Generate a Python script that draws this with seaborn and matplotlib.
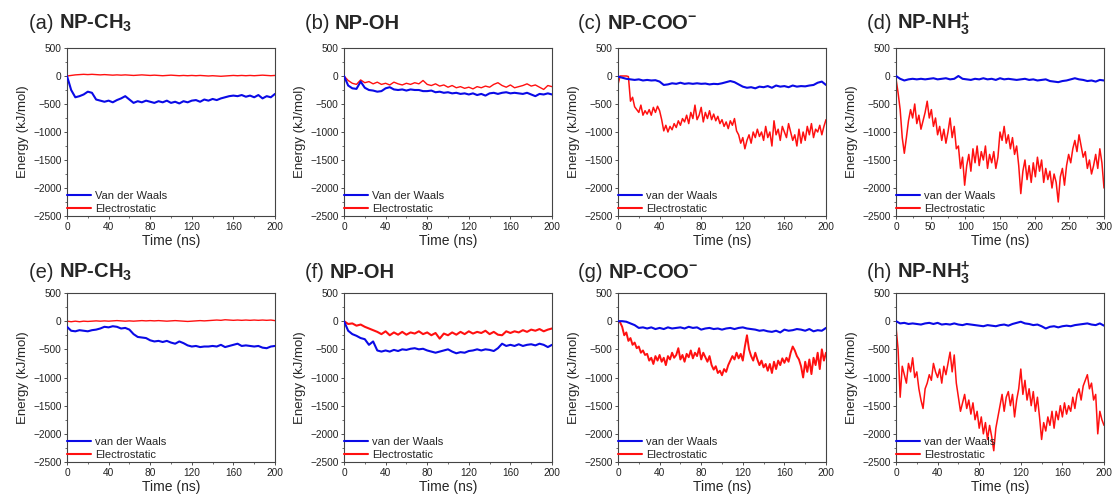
import numpy as np
import pandas as pd
import matplotlib
matplotlib.use("Agg")
import matplotlib.pyplot as plt
import seaborn as sns

# ---------------- data (kJ/mol) ----------------
# (a) NP-CH3, 0-200 ns
a_vdw = [0, -250, -380, -360, -330, -280, -300, -420, -440, -460, -440, -470, -430, -400, -360, -420,
         -480, -450, -470, -440, -460, -480, -450, -470, -440, -480, -460, -490, -450, -470, -440, -430,
         -460, -420, -440, -410, -430, -400, -380, -360, -350, -360, -340, -370, -350, -380, -340, -400,
         -360, -380, -320]
a_ele = [0, 10, 20, 25, 30, 25, 30, 25, 20, 25, 20, 15, 20, 15, 20, 15, 10, 15, 20, 15, 10, 15, 10, 5,
         10, 15, 10, 5, 10, 5, 10, 5, 10, 5, 0, 5, 0, -5, 0, 5, 10, 5, 10, 5, 10, 5, 10, 15, 10, 5, 10]
# (b) NP-OH
b_vdw = [0, -170, -220, -230, -100, -210, -250, -260, -280, -270, -220, -200, -240, -250, -240, -260,
         -240, -250, -250, -270, -270, -260, -290, -280, -300, -290, -310, -300, -320, -310, -330, -310,
         -340, -320, -350, -310, -300, -320, -300, -290, -310, -300, -310, -320, -300, -330, -360, -320,
         -330, -310, -330]
b_ele = [0, -80, -130, -150, -70, -120, -100, -140, -110, -150, -130, -160, -110, -140, -160, -130,
         -150, -120, -140, -80, -150, -170, -140, -180, -160, -200, -170, -210, -190, -220, -200, -230,
         -190, -210, -180, -200, -150, -120, -170, -200, -160, -210, -190, -170, -140, -180, -160, -200,
         -240, -170, -190]
# (c) NP-COO-
c_vdw = [-10, -30, -50, -60, -70, -60, -80, -70, -80, -75, -100, -160, -150, -130, -140, -120, -140,
         -130, -140, -130, -140, -135, -150, -140, -145, -130, -110, -90, -110, -150, -190, -210, -200,
         -220, -190, -200, -180, -210, -170, -190, -180, -200, -170, -190, -180, -185, -170, -160, -120,
         -100, -160]
c_ele = [-150, 0, 0, 0, 0, -10, -450, -380, -550, -600, -650, -520, -700, -620, -680, -600, -700, -560,
         -650, -540, -620, -780, -980, -880, -1000, -900, -960, -850, -920, -800, -880, -760, -820, -700,
         -850, -650, -760, -520, -780, -700, -560, -820, -650, -760, -620, -780, -680, -800, -720, -850,
         -780, -900, -820, -940, -800, -880, -760, -980, -1050, -1200, -1100, -1300, -1150, -1050, -1200,
         -1000, -1100, -950, -1080, -1000, -1150, -900, -1100, -1000, -1250, -800, -1050, -950, -1150,
         -900, -1000, -1100, -850, -1000, -1150, -1050, -1250, -950, -1200, -1000, -1150, -900, -1050,
         -850, -1100, -950, -1000, -880, -1050, -900, -780]
# (d) NP-NH3+, 0-300 ns
d_vdw = [0, -50, -80, -60, -50, -60, -50, -60, -50, -40, -60, -50, -40, -60, -50, 0, -50, -60, -70, -50,
         -60, -40, -60, -50, -70, -40, -60, -50, -60, -70, -60, -50, -70, -60, -80, -70, -60, -90, -100,
         -110, -90, -80, -60, -40, -60, -70, -90, -80, -100, -70, -80]
d_ele = [-50, -300, -600, -1100, -1380, -1100, -800, -600, -750, -500, -850, -700, -950, -800, -650,
         -450, -750, -600, -900, -750, -1050, -900, -1150, -950, -1200, -1000, -750, -1100, -900, -1300,
         -1250, -1650, -1450, -1950, -1600, -1400, -1700, -1300, -1550, -1250, -1600, -1350, -1500, -1250,
         -1650, -1400, -1550, -1350, -1650, -1450, -1000, -1150, -900, -1200, -1050, -1300, -1100, -1400,
         -1250, -1600, -2100, -1700, -1500, -1850, -1600, -1900, -1550, -1800, -1450, -1700, -1500, -1900,
         -1650, -1850, -1700, -2000, -1750, -1900, -2250, -1800, -1650, -1950, -1600, -1400, -1550, -1300,
         -1150, -1350, -1050, -1250, -1450, -1350, -1650, -1500, -1750, -1600, -1400, -1650, -1300, -1550,
         -2000]
# (e) NP-CH3
e_vdw = [-100, -170, -180, -160, -170, -180, -160, -150, -130, -100, -110, -90, -100, -130, -120, -150,
         -230, -280, -290, -300, -340, -360, -350, -370, -350, -380, -400, -360, -390, -430, -450, -440,
         -460, -450, -450, -440, -450, -420, -460, -440, -420, -400, -440, -430, -440, -450, -440, -470,
         -480, -450, -440]
e_ele = [0, -10, 0, -10, 0, -5, 0, 5, 0, 5, 0, 5, 10, 5, 0, 5, 0, 5, 10, 5, 10, 5, 10, 5, 0, 5, 10, 5,
         0, -5, 0, 5, 10, 5, 10, 15, 20, 15, 25, 20, 15, 20, 15, 20, 15, 20, 15, 20, 15, 20, 10]
# (f) NP-OH
f_vdw = [0, -170, -230, -260, -300, -320, -420, -360, -520, -540, -520, -540, -510, -530, -500, -510,
         -490, -480, -500, -490, -520, -540, -560, -540, -520, -500, -540, -570, -550, -560, -530, -520,
         -500, -520, -500, -510, -530, -480, -400, -440, -420, -440, -410, -440, -420, -410, -430, -400,
         -420, -460, -420]
f_ele = [0, -50, -40, -80, -60, -100, -130, -160, -190, -230, -180, -250, -200, -240, -190, -240, -200,
         -220, -180, -230, -200, -250, -210, -310, -220, -250, -200, -240, -190, -230, -180, -220, -190,
         -210, -170, -230, -190, -240, -250, -180, -210, -180, -200, -160, -190, -150, -170, -140, -180,
         -150, -130]
# (g) NP-COO-
g_vdw = [0, 0, -10, -40, -70, -120, -110, -130, -110, -140, -120, -140, -110, -130, -120, -110, -130,
         -100, -120, -110, -150, -130, -120, -140, -130, -150, -130, -120, -140, -120, -110, -130, -140,
         -150, -170, -160, -180, -190, -170, -200, -150, -170, -160, -140, -150, -170, -140, -180, -160,
         -170, -120]
g_ele = [0, -20, -100, -250, -200, -350, -300, -420, -380, -480, -450, -560, -520, -600, -580, -700,
         -650, -760, -620, -700, -600, -720, -650, -780, -620, -680, -560, -650, -600, -480, -680, -600,
         -720, -580, -640, -520, -660, -560, -620, -480, -680, -560, -640, -720, -620, -780, -860, -800,
         -920, -880, -960, -850, -900, -780, -700, -620, -680, -560, -660, -580, -700, -450, -250, -500,
         -620, -700, -560, -680, -780, -700, -820, -760, -880, -760, -920, -720, -850, -700, -780, -660,
         -740, -650, -720, -560, -450, -520, -620, -680, -800, -1000, -720, -900, -680, -940, -650, -780,
         -560, -850, -500, -700, -560]
# (h) NP-NH3+
h_vdw = [0, -40, -30, -50, -40, -50, -60, -40, -30, -50, -30, -60, -50, -60, -40, -60, -70, -50, -60,
         -70, -80, -90, -70, -80, -90, -70, -60, -80, -50, -30, -10, -40, -50, -70, -60, -90, -130, -100,
         -90, -110, -90, -80, -90, -70, -60, -50, -40, -60, -70, -40, -80]
h_ele = [-100, -500, -1350, -800, -950, -1100, -750, -900, -650, -1000, -900, -1200, -1400, -1550, -1200,
         -1100, -950, -1050, -750, -900, -1000, -850, -1100, -800, -950, -750, -550, -900, -600, -1100,
         -1350, -1600, -1450, -1300, -1550, -1400, -1650, -1450, -1750, -1600, -1900, -1700, -2000, -1800,
         -2100, -1850, -2050, -2300, -1900, -1700, -1500, -1300, -1600, -1350, -1250, -1500, -1300, -1700,
         -1400, -1200, -850, -1300, -1050, -1400, -1200, -1500, -1250, -1600, -1350, -1700, -2100, -1800,
         -1950, -1700, -1850, -1600, -1900, -1600, -1750, -1500, -1700, -1450, -1650, -1500, -1600, -1350,
         -1550, -1300, -1200, -1400, -1150, -1050, -950, -1200, -1100, -1400, -1300, -2000, -1600, -1750,
         -1850]

panel_letters = ["(a)", "(b)", "(c)", "(d)", "(e)", "(f)", "(g)", "(h)"]
panel_names = ["NP-CH$_\\mathbf{3}$", "NP-OH", "NP-COO$^\\mathbf{-}$", "NP-NH$_\\mathbf{3}^\\mathbf{+}$",
               "NP-CH$_\\mathbf{3}$", "NP-OH", "NP-COO$^\\mathbf{-}$", "NP-NH$_\\mathbf{3}^\\mathbf{+}$"]
vdw_labels = ["Van der Waals", "Van der Waals", "van der Waals", "van der Waals",
              "van der Waals", "van der Waals", "van der Waals", "van der Waals"]
ele_labels = ["Electrostatic"] * 7 + ["Elestrostatic"]
t_max = [200, 200, 200, 300, 200, 200, 200, 200]
x_ticks_200 = [0, 40, 80, 120, 160, 200]
x_ticks_300 = [0, 50, 100, 150, 200, 250, 300]
y_ticks = [500, 0, -500, -1000, -1500, -2000, -2500]

vdw_series = [a_vdw, b_vdw, c_vdw, d_vdw, e_vdw, f_vdw, g_vdw, h_vdw]
ele_series = [a_ele, b_ele, c_ele, d_ele, e_ele, f_ele, g_ele, h_ele]

# ---------------- style ----------------
sns.set_theme(style="ticks")
plt.rcParams["font.family"] = ["Liberation Sans", "DejaVu Sans"]
plt.rcParams["mathtext.fontset"] = "custom"
plt.rcParams["mathtext.rm"] = "Liberation Sans"
plt.rcParams["mathtext.bf"] = "Liberation Sans:bold"
plt.rcParams["axes.unicode_minus"] = True

BLUE = "#0a0ae6"
RED = "#ff1010"

fig = plt.figure(figsize=(11.16, 4.99), dpi=100)

lefts_px = [67, 344, 618, 896]
title_x_px = [29, 305, 578, 867]
row_top_px = [48, 293]
row_bot_px = [216, 462]
title_base_px = [29, 278]
W, H = 1116, 499
ax_w = 208

ele_lw = [1.0, 1.0, 1.1, 1.1, 1.0, 1.5, 1.4, 1.1]

renderer = fig.canvas.get_renderer()

for i in range(8):
    r, c = divmod(i, 4)
    left = lefts_px[c] / W
    bottom = 1 - row_bot_px[r] / H
    height = (row_bot_px[r] - row_top_px[r]) / H
    ax = fig.add_axes([left, bottom, ax_w / W, height])

    v = np.asarray(vdw_series[i], dtype=float)
    e = np.asarray(ele_series[i], dtype=float)
    dv = pd.DataFrame({"t": np.linspace(0, t_max[i], len(v)), "E": v})
    de = pd.DataFrame({"t": np.linspace(0, t_max[i], len(e)), "E": e})

    sns.lineplot(data=dv, x="t", y="E", ax=ax, color=BLUE, lw=1.5, label=vdw_labels[i], zorder=3)
    sns.lineplot(data=de, x="t", y="E", ax=ax, color=RED, lw=ele_lw[i], label=ele_labels[i], zorder=2)

    ax.set_xlim(0, t_max[i])
    ax.set_ylim(-2500, 500)
    ax.set_xticks(x_ticks_300 if t_max[i] == 300 else x_ticks_200)
    ax.set_yticks(y_ticks)
    ax.xaxis.set_minor_locator(matplotlib.ticker.AutoMinorLocator(2))
    ax.yaxis.set_minor_locator(matplotlib.ticker.AutoMinorLocator(2))
    ax.tick_params(axis="both", which="major", labelsize=7.3, length=2.5, width=0.6, pad=1.5,
                   direction="out", colors="#333333", labelcolor="#222222")
    ax.tick_params(axis="both", which="minor", length=1.5, width=0.5, direction="out", colors="#333333")
    for s in ax.spines.values():
        s.set_visible(True)
        s.set_linewidth(0.8)
        s.set_color("#444444")
    ax.set_xlabel("Time (ns)", fontsize=10, labelpad=2)
    ax.set_ylabel("Energy (kJ/mol)", fontsize=9.5, labelpad=3)

    leg = ax.legend(loc="lower left", bbox_to_anchor=(0.0, 0.01), borderaxespad=0, frameon=False,
                    fontsize=8, handlelength=2.2, handletextpad=0.3, labelspacing=0.3,
                    borderpad=0)
    for ln in leg.get_lines():
        ln.set_linewidth(1.5)

    ty = 1 - title_base_px[r] / H
    t1 = fig.text(title_x_px[c] / W, ty, panel_letters[i] + " ", fontsize=14.5, va="baseline", ha="left")
    bb = t1.get_window_extent(renderer=renderer)
    fig.text(bb.x1 / W, ty, panel_names[i], fontsize=14.5, fontweight="bold", va="baseline", ha="left")

fig.savefig("out.png", dpi=100)
